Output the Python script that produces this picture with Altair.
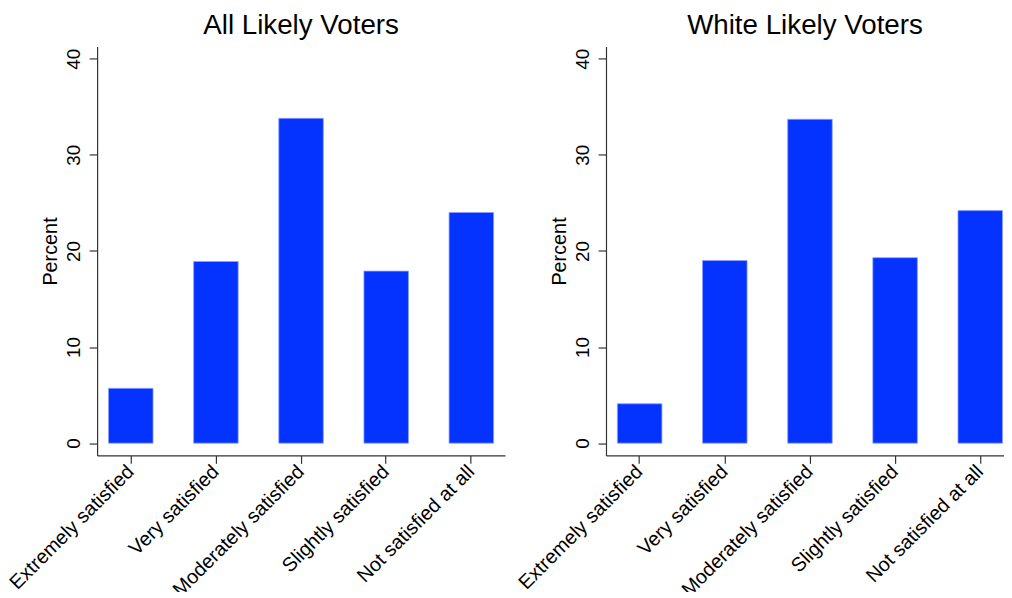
import altair as alt
import pandas as pd

categories = ["Extremely satisfied", "Very satisfied", "Moderately satisfied",
              "Slightly satisfied", "Not satisfied at all"]
all_voters = [5.7, 18.9, 33.8, 17.9, 24.0]
white_voters = [4.1, 19.0, 33.7, 19.3, 24.2]
panel_titles = ["All Likely Voters", "White Likely Voters"]
y_ticks = [0, 10, 20, 30, 40]

FONT = "Liberation Sans"
BAR = "#0433FF"
AX = "#333333"


def panel(values, title, width, pad_outer, align):
    df = pd.DataFrame({"cat": categories, "pct": values})
    return alt.Chart(df).mark_bar(
        color=BAR, stroke="#8C9EFF", strokeWidth=0.8
    ).encode(
        x=alt.X("cat:N", sort=categories, title=None,
                scale=alt.Scale(paddingInner=0.477, paddingOuter=pad_outer, align=align),
                axis=alt.Axis(labelAngle=-45, labelAlign="right", labelBaseline="middle",
                              labelPadding=5, tickSize=8, labelFontSize=20,
                              labelFont=FONT, labelColor="black",
                              domainColor=AX, tickColor=AX,
                              domainWidth=1.2, tickWidth=1.2)),
        y=alt.Y("pct:Q", title="Percent",
                scale=alt.Scale(domain=[-1.28, 41.27], nice=False, zero=False),
                axis=alt.Axis(values=y_ticks, grid=False, labelAngle=-90,
                              labelAlign="center", labelBaseline="bottom",
                              labelPadding=6, tickSize=8, labelFontSize=19,
                              labelFont=FONT, labelColor="black",
                              titleFont=FONT, titleFontSize=20, titleFontWeight="normal",
                              titleColor="black", titlePadding=4,
                              domainColor=AX, tickColor=AX,
                              domainWidth=1.2, tickWidth=1.2)),
        y2=alt.datum(0),
    ).properties(
        width=width, height=413,
        title=alt.Title(title, font=FONT, fontSize=28, fontWeight="normal",
                        color="black", offset=7),
    )


chart = alt.hconcat(
    panel(all_voters, panel_titles[0], 412, 0.134, 0.5),
    panel(white_voters, panel_titles[1], 402, 0.0756, 0.885),
    spacing=9,
).properties(
    padding={"left": -3, "top": 1, "right": 0, "bottom": -11}
).configure(background="white").configure_view(stroke=None)

chart.save("out.html", embed_options={"renderer": "svg", "actions": False})
